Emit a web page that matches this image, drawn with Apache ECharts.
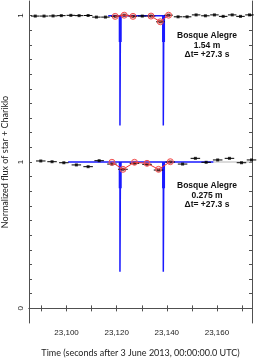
<!DOCTYPE html>
<html><head><meta charset="utf-8">
<script src="https://cdn.jsdelivr.net/npm/echarts@6/dist/echarts.min.js"></script>
<style>html,body{margin:0;padding:0;background:#fff}#c{width:257px;height:361px}</style>
</head><body><div id="c"></div>
<script>
// ---- data ----
const upperTime = [23087.5,23091.0,23094.6,23097.9,23101.7,23105.0,23108.6,23111.9,23115.5,23119.4,23123.0,23126.5,23130.2,23133.7,23137.4,23140.7,23144.5,23148.1,23151.7,23155.4,23159.0,23162.5,23166.1,23169.4,23173.0];
const upperFlux = [0.997,0.997,0.998,1.000,1.002,1.000,1.001,0.990,0.990,0.995,1.003,0.995,0.997,0.997,0.958,1.003,0.992,0.992,1.005,0.999,1.005,0.995,1.005,0.995,1.005];
const upperHalfExp = 1.7;
const upperModelTime = [23119.4,23123.0,23126.5,null,23133.7,23137.4,23140.7];
const upperModelFlux = [0.995,1.003,0.995,null,0.997,0.958,1.003];
const upperOffset = 1;

const lowerTime = [23089.7,23094.2,23098.9,23103.9,23108.6,23113.0,23118.1,23122.5,23127.1,23132.1,23136.7,23141.4,23146.3,23151.4,23155.7,23160.3,23165.0,23169.8,23173.8];
const lowerFlux = [1.007,1.002,0.995,0.980,0.968,1.009,0.986,0.950,0.991,0.984,0.945,1.000,0.986,1.025,0.998,1.014,1.025,0.995,1.014];
const lowerHalfExp = 1.9;
const lowerModelTime = [23118.1,23122.5,23127.1,23132.1,23136.7,23141.4];
const lowerModelFlux = [0.998,0.950,0.998,0.991,0.950,1.002];

const ringEventTimes = [23121.4, 23138.7];
const ringDepthFlux = 0.25;
const ringSmoothFlux = 0.82;
const upperModelSpan = [23116.6, 23140.6];
const lowerModelSpan = [23100.6, 23158.6];
const lowerGreySpan = [23158.6, 23174];

const xTickValues = [23090,23100,23110,23120,23130,23140,23150,23160,23170];
const xLabelValues = [23100,23120,23140,23160];
const yLabelValues = [0,1,2];
const yLabelTexts = ['0','1','1'];

const annotations = [
  {lines:['Bosque Alegre','1.54 m','\u0394t= +27.3 s'], x:207, y:36},
  {lines:['Bosque Alegre','0.275 m','\u0394t= +27.3 s'], x:207, y:186}
];

// ---- build ----
const yTickValues = [];
for (let i = 0; i <= 20; i++) yTickValues.push(Math.round(i)/10);

function modelLine(span, off) {
  const w = 0.1, d = [];
  d.push([span[0], 1 + off]);
  ringEventTimes.forEach(t => {
    d.push([t - w, 1 + off]); d.push([t - w, ringDepthFlux + off]);
    d.push([t + w, ringDepthFlux + off]); d.push([t + w, 1 + off]);
  });
  d.push([span[1], 1 + off]);
  return d;
}
function thickLine(off) {
  const d = [];
  ringEventTimes.forEach((t, i) => {
    if (i) d.push([null, null]);
    d.push([t, 1 + off]); d.push([t, ringSmoothFlux + off]);
  });
  return d;
}
const errRender = (params, api) => {
  const y = api.value(1), t = api.value(0), h = api.value(2);
  const a = api.coord([t - h, y]), b = api.coord([t + h, y]);
  return {type:'line', shape:{x1:a[0], y1:a[1], x2:b[0], y2:b[1]}, style:{stroke:'#000', lineWidth:1}};
};
const upperPts = upperTime.map((t,i)=>[t, upperFlux[i] + upperOffset, upperHalfExp]);
const lowerPts = lowerTime.map((t,i)=>[t, lowerFlux[i], lowerHalfExp]);
const upperRed = upperModelTime.map((t,i)=> t===null ? [null,null] : [t, upperModelFlux[i] + upperOffset]);
const lowerRed = lowerModelTime.map((t,i)=>[t, lowerModelFlux[i]]);

const axisCol = '#505050';
const xBase = {type:'value', min:23085, max:23174, splitLine:{show:false},
  axisLine:{lineStyle:{color:axisCol, width:1}},
  axisTick:{inside:true, length:3, customValues:xTickValues, lineStyle:{color:axisCol}}};
const yBase = {type:'value', min:-0.1, max:2.1, splitLine:{show:false},
  axisLine:{lineStyle:{color:axisCol, width:1}},
  axisTick:{inside:true, length:3, customValues:yTickValues, lineStyle:{color:axisCol}}};

const graphics = [];
annotations.forEach(a => {
  a.lines.forEach((s, i) => graphics.push({type:'text', x:a.x, y:a.y + i*9.5,
    style:{text:s, textAlign:'center', textVerticalAlign:'middle', fill:'#111',
      font:'bold 8.5px "Liberation Sans", Arial, sans-serif'}}));
});

const chart = echarts.init(document.getElementById('c'), null, {renderer:'canvas'});
chart.setOption({
  animation:false,
  grid:{left:29, right:5, top:1, bottom:38, containLabel:false, outerBoundsMode:'none'},
  xAxis:[
    Object.assign({}, xBase, {position:'bottom',
      name:'Time (seconds after 3 June 2013, 00:00:00.0 UTC)', nameLocation:'middle', nameGap:26,
      nameTextStyle:{fontSize:9, color:'#222', fontFamily:'Lato'},
      axisLabel:{customValues:xLabelValues, fontSize:8, color:'#222', margin:6,
        fontFamily:'"Liberation Sans", Arial',
        formatter:v=>Number(v).toLocaleString('en-US')}}),
    Object.assign({}, xBase, {position:'top', axisLabel:{show:false}})
  ],
  yAxis:[
    Object.assign({}, yBase, {position:'left',
      name:'Normalized flux of star + Chariklo', nameLocation:'middle', nameGap:18,
      nameTextStyle:{fontSize:9, color:'#222', fontFamily:'Lato'},
      axisLabel:{customValues:yLabelValues, rotate:90, fontSize:8, color:'#222', margin:4,
        fontFamily:'"Liberation Sans", Arial',
        formatter:v=>{const i=yLabelValues.findIndex(a=>Math.abs(a-v)<1e-6); return i>=0?yLabelTexts[i]:'';}}}),
    Object.assign({}, yBase, {position:'right', axisLabel:{show:false}})
  ],
  graphic:graphics,
  series:[
    {type:'line', data:[[lowerGreySpan[0],1],[lowerGreySpan[1],1]], symbol:'none', lineStyle:{color:'#b8b8b8', width:1}, z:1},
    {type:'line', data:modelLine(upperModelSpan, upperOffset), symbol:'none', lineStyle:{color:'#1a1aff', width:1.5}, z:2},
    {type:'line', data:modelLine(lowerModelSpan, 0), symbol:'none', lineStyle:{color:'#1a1aff', width:1.5}, z:2},
    {type:'line', data:thickLine(upperOffset), symbol:'none', connectNulls:false, lineStyle:{color:'#1a1aff', width:3}, z:2},
    {type:'line', data:thickLine(0), symbol:'none', connectNulls:false, lineStyle:{color:'#1a1aff', width:3}, z:2},
    {type:'custom', renderItem:errRender, data:upperPts, z:3},
    {type:'custom', renderItem:errRender, data:lowerPts, z:3},
    {type:'scatter', data:upperPts.map(p=>[p[0],p[1]]), symbol:'rect', symbolSize:3, itemStyle:{color:'#000'}, z:4},
    {type:'scatter', data:lowerPts.map(p=>[p[0],p[1]]), symbol:'rect', symbolSize:3, itemStyle:{color:'#000'}, z:4},
    {type:'line', data:upperRed, connectNulls:false, symbol:'circle', symbolSize:6, showSymbol:true,
      lineStyle:{color:'#f03030', width:1},
      itemStyle:{color:'rgba(255,90,90,0.25)', borderColor:'#f05050', borderWidth:1}, z:5},
    {type:'line', data:lowerRed, symbol:'circle', symbolSize:6, showSymbol:true,
      lineStyle:{color:'#f03030', width:1},
      itemStyle:{color:'rgba(255,90,90,0.25)', borderColor:'#f05050', borderWidth:1}, z:5}
  ]
});
</script></body></html>
